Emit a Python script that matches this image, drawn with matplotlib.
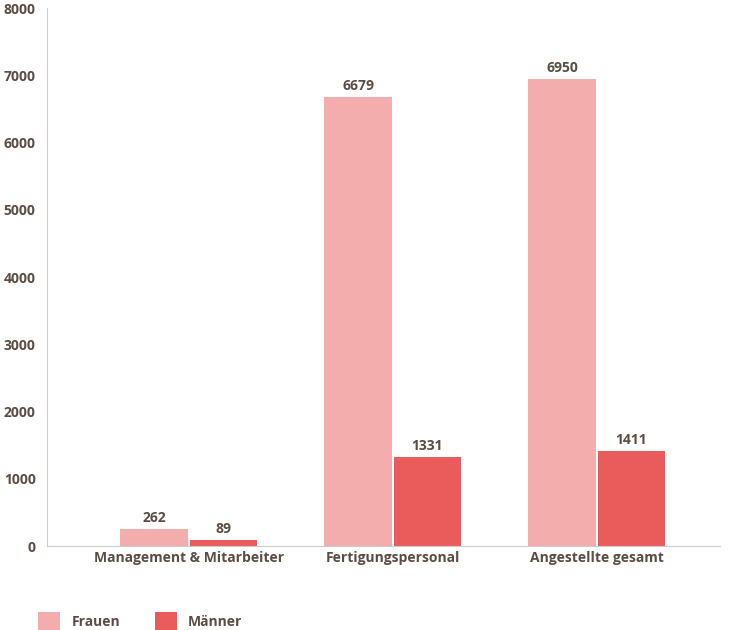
import matplotlib
matplotlib.use("Agg")
import matplotlib.pyplot as plt
import numpy as np

categories = ["Management & Mitarbeiter", "Fertigungspersonal", "Angestellte gesamt"]
frauen = [262, 6679, 6950]
maenner = [89, 1331, 1411]
series_names = ["Frauen", "Männer"]
colors = ["#f4adad", "#ea5c5c"]
txt = "#5b4c44"

plt.rcParams['font.family'] = ['Open Sans', 'DejaVu Sans']
fig = plt.figure(figsize=(7.3, 6.3), dpi=100)
ax = fig.add_axes([0.064, 0.133, 0.922, 0.854])
x = np.arange(len(categories))
w = 0.33
for i, (vals, name) in enumerate(zip([frauen, maenner], series_names)):
    pos = x + (i - 0.5) * (w + 0.01)
    bars = ax.bar(pos, vals, w, color=colors[i], label=name)
    for b, v in zip(bars, vals):
        ax.text(b.get_x() + b.get_width() / 2, v + 60, str(v), ha='center', va='bottom',
                fontsize=10, fontweight='bold', color=txt)
ax.set_xlim(-0.696, 2.603)
ax.set_ylim(0, 8000)
ax.set_yticks(range(0, 8001, 1000))
ax.set_xticks(x)
ax.set_xticklabels(categories)
ax.tick_params(length=0, labelsize=10, colors=txt)
ax.tick_params(axis='y', pad=8)
for lab in ax.get_xticklabels() + ax.get_yticklabels():
    lab.set_fontweight('bold')
for s in ['top', 'right']:
    ax.spines[s].set_visible(False)
for s in ['left', 'bottom']:
    ax.spines[s].set_color('#cccccc')
    ax.spines[s].set_linewidth(0.8)
leg = fig.legend(loc='lower left', bbox_to_anchor=(0.035, -0.02), ncol=2, frameon=False,
                 handlelength=1.6, handleheight=1.6, columnspacing=2.5, fontsize=10)
for t in leg.get_texts():
    t.set_color(txt)
    t.set_fontweight('bold')
fig.savefig("out.png", dpi=100)
